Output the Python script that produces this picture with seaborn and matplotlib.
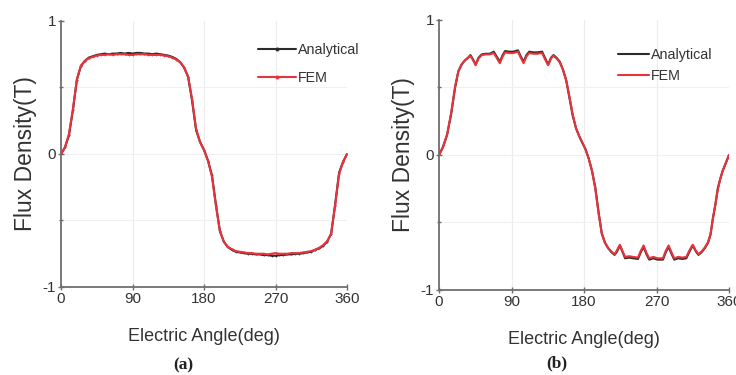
import numpy as np
import pandas as pd
import matplotlib
matplotlib.use("Agg")
import matplotlib.pyplot as plt
import seaborn as sns

# ---------------- data ----------------
angle_a = [0, 5, 10, 15, 20, 25, 30, 35, 40, 45, 50, 55, 60, 65, 70, 75, 80, 85, 90,
           95, 100, 105, 110, 115, 120, 125, 130, 135, 140, 145, 150, 155, 160, 165, 170,
           175, 180, 185, 190, 195, 200, 205, 210, 215, 220, 225, 230, 235, 240, 245, 250,
           255, 260, 265, 270, 275, 280, 285, 290, 295, 300, 305, 310, 315, 320, 325, 330,
           335, 340, 345, 350, 355, 360]
analytical_a = [0, 0.05, 0.14, 0.33, 0.56, 0.66, 0.70, 0.725, 0.735, 0.745, 0.75, 0.755,
                0.75, 0.755, 0.755, 0.76, 0.755, 0.76, 0.755, 0.76, 0.76, 0.755, 0.755,
                0.75, 0.755, 0.75, 0.745, 0.74, 0.73, 0.715, 0.69, 0.65, 0.58, 0.40, 0.18,
                0.09, 0.03, -0.05, -0.16, -0.38, -0.58, -0.66, -0.70, -0.72, -0.735, -0.74,
                -0.745, -0.75, -0.75, -0.755, -0.755, -0.76, -0.76, -0.765, -0.765, -0.76,
                -0.76, -0.755, -0.755, -0.75, -0.75, -0.745, -0.74, -0.735, -0.72, -0.71,
                -0.69, -0.66, -0.60, -0.38, -0.14, -0.06, 0]
fem_a = [0, 0.05, 0.15, 0.34, 0.56, 0.665, 0.70, 0.72, 0.73, 0.74, 0.745, 0.745,
         0.75, 0.745, 0.75, 0.75, 0.75, 0.745, 0.745, 0.75, 0.75, 0.75, 0.745,
         0.745, 0.745, 0.745, 0.74, 0.735, 0.725, 0.71, 0.69, 0.65, 0.58, 0.41, 0.19,
         0.09, 0.03, -0.05, -0.17, -0.39, -0.58, -0.66, -0.70, -0.715, -0.73, -0.735,
         -0.74, -0.745, -0.745, -0.75, -0.75, -0.75, -0.755, -0.75, -0.745, -0.75,
         -0.75, -0.75, -0.745, -0.745, -0.745, -0.74, -0.735, -0.73, -0.72, -0.705,
         -0.685, -0.655, -0.60, -0.39, -0.15, -0.06, 0]

angle_b = [0, 5, 10, 15, 20, 24, 28, 32, 36, 39, 42, 45.5, 49, 53, 58, 63, 68, 71.5,
           75.5, 79, 82, 87, 92, 98, 101.5, 105, 108.5, 112, 117, 122, 128, 131.5, 135.5,
           139, 142, 146, 150, 154, 158, 162, 166, 170, 174, 178, 182, 186, 190, 194, 198,
           202, 206, 210, 214, 218, 221, 224.5, 228, 231, 236, 241, 247, 250.5, 254, 257.5,
           261, 266, 271, 278, 281.5, 285, 288.5, 292, 297, 302, 307, 311, 315, 318.5, 322,
           326, 330, 334, 337, 340, 343, 346, 349, 352, 356, 360]
analytical_b = [0, 0.06, 0.15, 0.30, 0.50, 0.62, 0.67, 0.70, 0.72, 0.74, 0.71, 0.67, 0.72,
                0.745, 0.75, 0.75, 0.765, 0.73, 0.69, 0.74, 0.77, 0.765, 0.765, 0.775,
                0.73, 0.69, 0.74, 0.765, 0.76, 0.76, 0.765, 0.72, 0.67, 0.72, 0.74, 0.72,
                0.69, 0.63, 0.55, 0.42, 0.29, 0.20, 0.14, 0.09, 0.04, -0.03, -0.12, -0.24,
                -0.42, -0.58, -0.65, -0.69, -0.72, -0.74, -0.715, -0.67, -0.72, -0.765,
                -0.76, -0.765, -0.77, -0.72, -0.68, -0.735, -0.775, -0.765, -0.775, -0.775,
                -0.72, -0.68, -0.73, -0.775, -0.765, -0.77, -0.765, -0.715, -0.67, -0.71,
                -0.74, -0.72, -0.69, -0.65, -0.59, -0.47, -0.37, -0.25, -0.18, -0.12,
                -0.06, 0]
fem_b = [0, 0.06, 0.15, 0.31, 0.51, 0.62, 0.67, 0.70, 0.72, 0.735, 0.705, 0.665, 0.715,
         0.74, 0.745, 0.745, 0.755, 0.72, 0.68, 0.73, 0.76, 0.755, 0.755, 0.765,
         0.72, 0.68, 0.73, 0.755, 0.75, 0.75, 0.755, 0.71, 0.665, 0.715, 0.735, 0.715,
         0.685, 0.63, 0.55, 0.43, 0.30, 0.20, 0.14, 0.09, 0.04, -0.03, -0.12, -0.25,
         -0.43, -0.58, -0.65, -0.69, -0.715, -0.735, -0.705, -0.665, -0.715, -0.755,
         -0.75, -0.755, -0.76, -0.71, -0.67, -0.725, -0.765, -0.755, -0.765, -0.765,
         -0.71, -0.67, -0.72, -0.765, -0.755, -0.76, -0.755, -0.705, -0.665, -0.705,
         -0.735, -0.715, -0.685, -0.645, -0.59, -0.47, -0.37, -0.26, -0.18, -0.12,
         -0.06, 0]

x_ticks = [0, 90, 180, 270, 360]
y_ticks = [-1, 0, 1]
x_label = "Electric Angle(deg)"
y_label = "Flux Density(T)"
series_names = ["Analytical", "FEM"]
captions = ["(a)", "(b)"]

# ---------------- style ----------------
sns.set_theme(style="white")
plt.rcParams["font.family"] = ["Liberation Sans", "DejaVu Sans"]
plt.rcParams["axes.unicode_minus"] = False

black = "#2b2b2b"
red = "#e8333c"
spine_c = "#6e6e6e"
text_c = "#333333"

fig = plt.figure(figsize=(7.36, 3.75), dpi=100)
ax_a = fig.add_axes([0.0829, 0.2347, 0.3886, 0.7093])
ax_b = fig.add_axes([0.5965, 0.2267, 0.394, 0.72])

panels = [
    # ax, angles, analytical, fem, markers, legend anchor, handlelength, labelspacing
    (ax_a, angle_a, analytical_a, fem_a, True, (0.689, 0.917), 2.65, 0.95),
    (ax_b, angle_b, analytical_b, fem_b, False, (0.617, 0.896), 2.15, 0.5),
]

for ax, ang, ana, fem, markers, anchor, hl, ls in panels:
    df = pd.DataFrame({
        "angle": ang + ang,
        "value": ana + fem,
        "series": [series_names[0]] * len(ang) + [series_names[1]] * len(ang),
    })
    sns.lineplot(data=df, x="angle", y="value", hue="series",
                 palette={series_names[0]: black, series_names[1]: red},
                 estimator=None, sort=False, ax=ax, linewidth=1.5,
                 marker="o" if markers else None, markersize=1.3 if markers else 0,
                 markeredgewidth=0)
    ax.set_xlim(0, 360)
    ax.set_ylim(-1, 1)
    ax.set_xticks(x_ticks)
    ax.set_yticks(y_ticks)
    ax.set_yticks([-0.5, 0.5], minor=True)
    ax.set_xlabel(x_label, fontsize=13, color=text_c, labelpad=16)
    ax.set_ylabel(y_label, fontsize=16.5, color=text_c, labelpad=4)
    for v in [90, 180, 270]:
        ax.axvline(v, color="#ececec", lw=0.8, zorder=0)
    for v in [-0.5, 0, 0.5]:
        ax.axhline(v, color="#f0f0f0", lw=0.8, zorder=0)
    for s in ["top", "right"]:
        ax.spines[s].set_visible(False)
    for s in ["left", "bottom"]:
        ax.spines[s].set_color(spine_c)
        ax.spines[s].set_linewidth(1.3)
    ax.tick_params(axis="both", which="major", direction="inout", length=5, width=1,
                   color=spine_c, labelsize=11, labelcolor=text_c, pad=1,
                   bottom=True, left=True)
    ax.tick_params(axis="y", which="minor", direction="inout", length=3, width=1,
                   color=spine_c, left=True)
    leg = ax.legend(frameon=False, fontsize=10.3, loc="upper left",
                    bbox_to_anchor=anchor, borderpad=0, borderaxespad=0,
                    handlelength=hl, handletextpad=0.15, labelspacing=ls,
                    markerscale=2.2)
    for t in leg.get_texts():
        t.set_color(text_c)

fig.text(0.249, 0.025, captions[0], fontsize=12.5, family=["Liberation Serif", "DejaVu Serif"],
         fontweight="bold", ha="center", va="center", color="#222222")
fig.text(0.757, 0.032, captions[1], fontsize=12.5, family=["Liberation Serif", "DejaVu Serif"],
         fontweight="bold", ha="center", va="center", color="#222222")

fig.savefig("out.png", dpi=100)
